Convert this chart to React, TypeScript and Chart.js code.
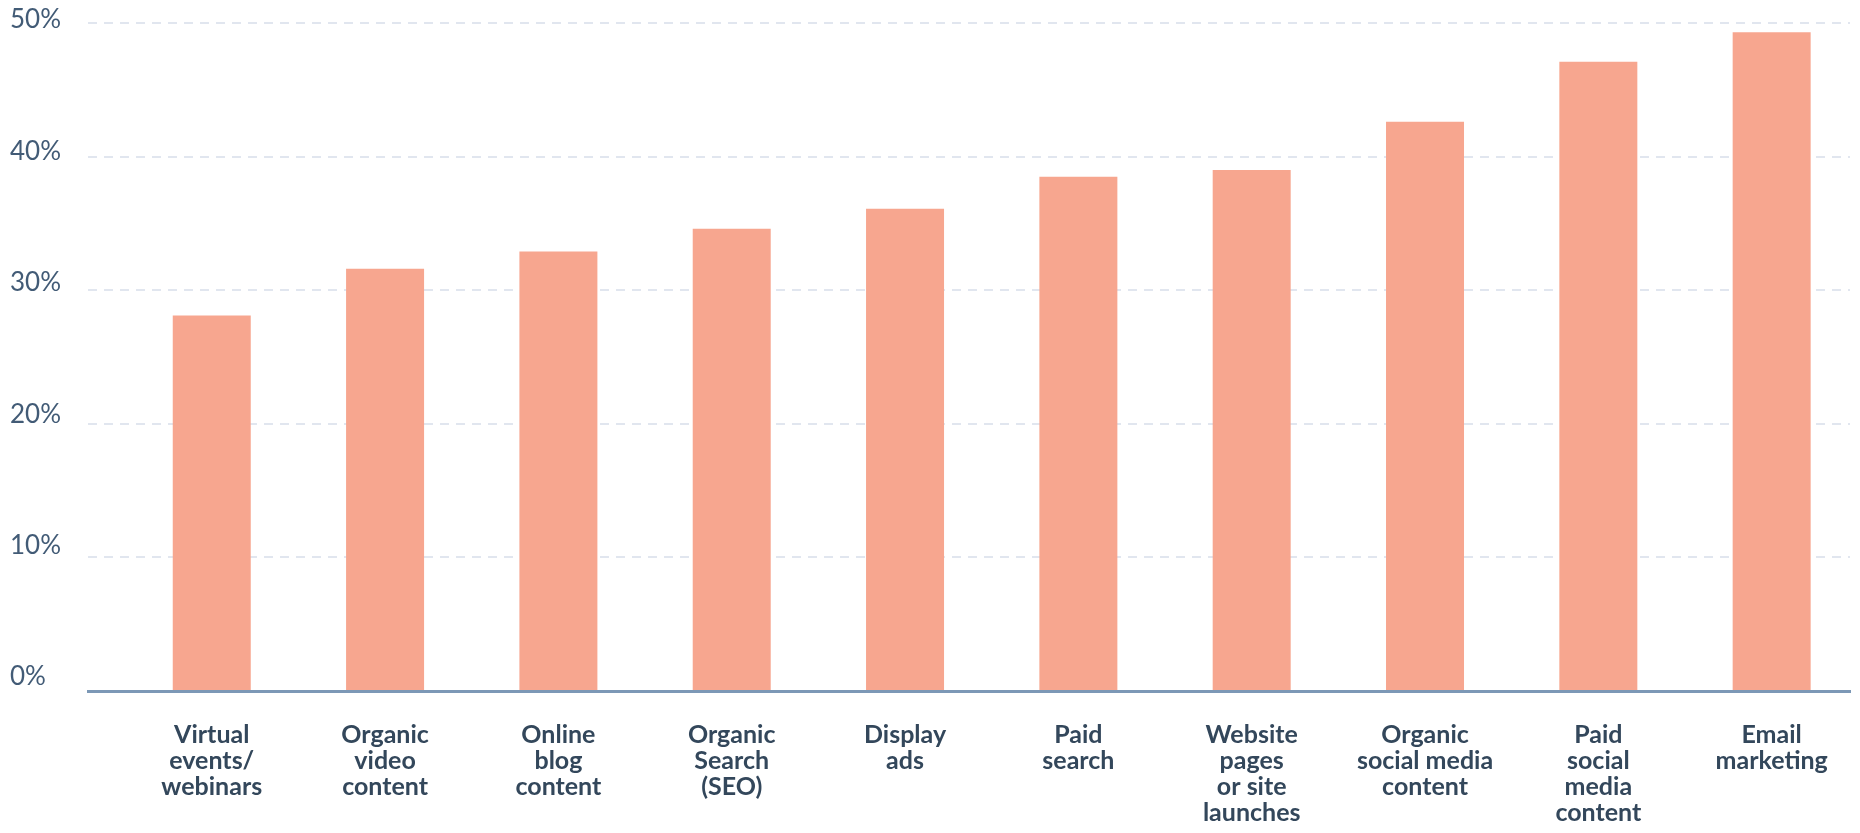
import React, { useEffect, useRef } from "react";
import { Chart, registerables } from "chart.js";

Chart.register(...registerables);

const categories: string[][] = [
  ["Virtual", "events/", "webinars"],
  ["Organic", "video", "content"],
  ["Online", "blog", "content"],
  ["Organic", "Search", "(SEO)"],
  ["Display", "ads"],
  ["Paid", "search"],
  ["Website", "pages", "or site", "launches"],
  ["Organic", "social media", "content"],
  ["Paid", "social", "media", "content"],
  ["Email", "marketing"],
];

const values: number[] = [28.1, 31.6, 32.9, 34.6, 36.1, 38.5, 39.0, 42.6, 47.1, 49.3];

const yTicks: number[] = [0, 10, 20, 30, 40, 50];

export default function App() {
  const ref = useRef<HTMLCanvasElement | null>(null);

  useEffect(() => {
    if (!ref.current) return;
    const chart = new Chart(ref.current, {
      type: "bar",
      data: {
        datasets: [
          {
            data: values.map((v, i) => ({ x: i, y: v })),
            yAxisID: "y",
            backgroundColor: "#f7a68f",
            borderWidth: 0,
            categoryPercentage: 1,
            barPercentage: 0.45,
          },
        ],
      },
      options: {
        animation: false,
        responsive: true,
        maintainAspectRatio: false,
        layout: { padding: { top: 23, left: 10, right: 10, bottom: 0 } },
        plugins: {
          legend: { display: false },
          tooltip: { enabled: false },
        },
        scales: {
          x: {
            type: "linear",
            offset: false,
            min: -0.714,
            max: 9.452,
            grid: { display: false, drawTicks: false },
            border: { display: true, color: "#7c98b6", width: 3 },
            afterBuildTicks: (scale: any) => {
              scale.ticks = categories.map((_, i) => ({ value: i }));
            },
            afterFit: (scale: any) => {
              scale.height = 142;
            },
            ticks: {
              autoSkip: false,
              maxRotation: 0,
              minRotation: 0,
              padding: 31,
              color: "#33475b",
              font: { family: "Lato", size: 25, weight: "bold", lineHeight: "26px" },
              callback: (value: any) => categories[Number(value)] ?? "",
            },
          },
          y: {
            type: "linear",
            position: "left",
            min: 0,
            max: 50,
            afterBuildTicks: (scale: any) => {
              scale.ticks = yTicks.map((v) => ({ value: v }));
            },
            afterFit: (scale: any) => {
              scale.width = 0;
            },
            grid: {
              color: "#e1e6ef",
              lineWidth: 2,
              drawTicks: false,
            },
            border: { display: false, dash: [9, 7] },
            ticks: { display: false },
          },
          yl: {
            type: "linear",
            axis: "y",
            position: "left",
            min: -0.47,
            max: 50.376,
            afterBuildTicks: (scale: any) => {
              scale.ticks = yTicks.map((v) => ({ value: v }));
            },
            afterFit: (scale: any) => {
              scale.width = 78;
            },
            grid: { display: false, drawTicks: false },
            border: { display: false },
            ticks: {
              crossAlign: "far",
              padding: 0,
              labelOffset: -7.88,
              color: "#425b76",
              font: { family: "Lato", size: 26, weight: "normal" },
              callback: (value: any) => `${value}%`,
            },
          },
        },
      } as any,
    });
    return () => chart.destroy();
  }, []);

  return (
    <div style={{ position: "absolute", left: 0, top: 0, width: 1860, height: 833, background: "#fff" }}>
      <canvas ref={ref} />
    </div>
  );
}
